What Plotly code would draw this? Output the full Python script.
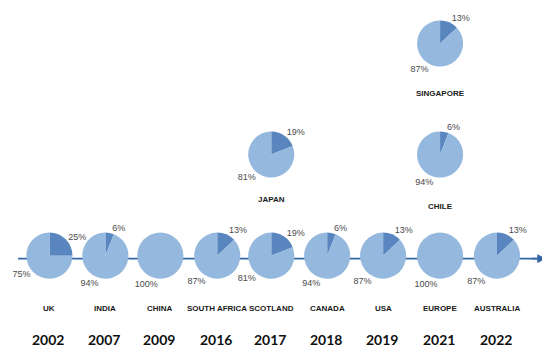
import plotly.graph_objects as go

# ---- data ----
countries = ["UK", "INDIA", "CHINA", "SOUTH AFRICA", "SCOTLAND", "CANADA", "USA",
             "EUROPE", "AUSTRALIA", "JAPAN", "CHILE", "SINGAPORE"]
minor_pct = [25, 6, 0, 13, 19, 6, 13, 0, 13, 19, 6, 13]
major_pct = [75, 94, 100, 87, 81, 94, 87, 100, 87, 81, 94, 87]
column = [0, 1, 2, 3, 4, 5, 6, 7, 8, 4, 7, 7]   # timeline slot
level = [0, 0, 0, 0, 0, 0, 0, 0, 0, 1, 1, 2]    # stacking above the timeline
years = ["2002", "2007", "2009", "2016", "2017", "2018", "2019", "2021", "2022"]

# ---- layout helpers (page has an 8px body margin) ----
OFF = 8
W, H = 550 - OFF, 348 - OFF
col_x = [v - OFF for v in [40, 97, 153, 211, 266, 323, 380, 438, 496]]
level_y = [v - OFF for v in [254, 151, 38]]
label_dy = [54] * 9 + [46, 53, 51]
R = 23.5
DARK = "#5a86c0"
LIGHT = "#95b9de"
LINE = "#3467a6"

fig = go.Figure()

for name, a, b, c, lv, dy in zip(countries, minor_pct, major_pct, column, level, label_dy):
    cx, cy = col_x[c], level_y[lv]
    vals, cols = [], []
    for v, col in ((a, DARK), (b, LIGHT)):
        if v > 0:
            vals.append(v)
            cols.append(col)
    fig.add_trace(go.Pie(
        values=vals,
        labels=[f"{name}-{i}" for i in range(len(vals))],
        marker=dict(colors=cols, line=dict(width=0)),
        sort=False, direction="clockwise", rotation=0,
        textposition="outside", texttemplate="%{value}%",
        textfont=dict(size=9, color="#4a4a4a", family="Liberation Sans"),
        hoverinfo="skip", showlegend=False,
        domain=dict(x=[(cx - R) / W, (cx + R) / W],
                    y=[1 - (cy + R) / H, 1 - (cy - R) / H]),
    ))
    fig.add_annotation(x=cx, y=cy + dy, xref="x", yref="y", text=f"<b>{name}</b>",
                       showarrow=False, font=dict(size=8, color="#1a1a1a",
                                                  family="Liberation Sans"))

for i, yr in enumerate(years):
    fig.add_annotation(x=col_x[i] - 1, y=339 - OFF, xref="x", yref="y", text=f"<b>{yr}</b>",
                       showarrow=False, font=dict(size=14, color="#111111", family="Lato"))

# timeline
fig.add_shape(type="line", x0=5 - OFF, x1=542 - OFF, y0=257 - OFF, y1=257 - OFF,
              xref="x", yref="y", line=dict(color=LINE, width=1.6), layer="below")
fig.add_annotation(x=546 - OFF, y=257 - OFF, ax=530 - OFF, ay=257 - OFF,
                   xref="x", yref="y", axref="x", ayref="y",
                   text="", showarrow=True, arrowhead=2, arrowsize=1.1, arrowwidth=1.6,
                   arrowcolor=LINE)

fig.update_layout(
    width=W, height=H, margin=dict(l=0, r=0, t=0, b=0),
    paper_bgcolor="white", plot_bgcolor="white",
    xaxis=dict(range=[0, W], visible=False, fixedrange=True),
    yaxis=dict(range=[H, 0], visible=False, fixedrange=True),
)

fig.write_html("out.html")
